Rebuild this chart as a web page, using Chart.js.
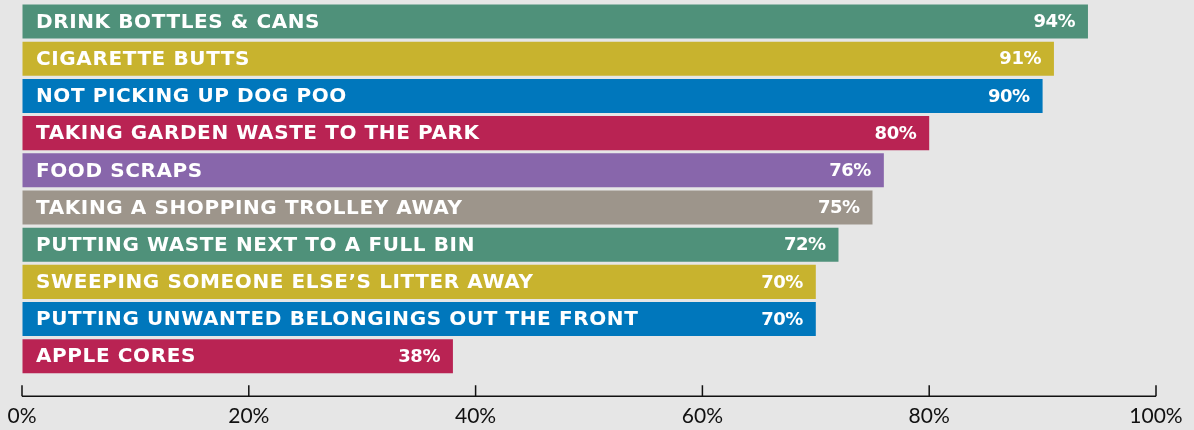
<!DOCTYPE html>
<html lang="en">
<head>
    <meta charset="UTF-8">
    <title>Littering behaviours</title>
    <script src="https://cdn.jsdelivr.net/npm/chart.js"></script>
    <style>
        body { margin: 0; background: #e6e6e6; }
        #wrap { width: 1194px; height: 430px; }
    </style>
</head>
<body>
    <div id="wrap"><canvas id="litterChart" width="1194" height="430"></canvas></div>

    <script>
        // data
        const categories = [
            'DRINK BOTTLES & CANS',
            'CIGARETTE BUTTS',
            'NOT PICKING UP DOG POO',
            'TAKING GARDEN WASTE TO THE PARK',
            'FOOD SCRAPS',
            'TAKING A SHOPPING TROLLEY AWAY',
            'PUTTING WASTE NEXT TO A FULL BIN',
            'SWEEPING SOMEONE ELSE\u2019S LITTER AWAY',
            'PUTTING UNWANTED BELONGINGS OUT THE FRONT',
            'APPLE CORES'
        ];
        const percents = [94, 91, 90, 80, 76, 75, 72, 70, 70, 38];
        const barColors = ['#4f917a', '#c8b32e', '#0077bc', '#b92353', '#8866ab',
                           '#9d958b', '#4f917a', '#c8b32e', '#0077bc', '#b92353'];
        const tickValues = [0, 20, 40, 60, 80, 100];

        // writes category name and value inside each bar
        const barText = {
            id: 'barText',
            afterDatasetsDraw(chart) {
                const ctx = chart.ctx;
                const meta = chart.getDatasetMeta(0);
                const left = chart.chartArea.left;
                ctx.save();
                ctx.fillStyle = '#ffffff';
                ctx.textBaseline = 'middle';
                meta.data.forEach((bar, i) => {
                    ctx.textAlign = 'left';
                    ctx.font = 'bold 20px "DejaVu Sans"';
                    ctx.letterSpacing = '0.6px';
                    ctx.fillText(categories[i], left + 14, bar.y + 1);
                    ctx.textAlign = 'right';
                    ctx.font = 'bold 18px "DejaVu Sans"';
                    ctx.letterSpacing = '-0.5px';
                    ctx.fillText(percents[i] + '%', bar.x - 13, bar.y + 1);
                });
                ctx.restore();
            }
        };

        // axis line with tick marks pointing up, a little below the bars
        const axisLine = {
            id: 'axisLine',
            afterDraw(chart) {
                const ctx = chart.ctx;
                const x = chart.scales.x;
                const y = x.top + 21.5;
                ctx.save();
                ctx.strokeStyle = '#111111';
                ctx.lineWidth = 1.5;
                ctx.beginPath();
                ctx.moveTo(x.left, y);
                ctx.lineTo(x.right, y);
                tickValues.forEach(v => {
                    const px = x.getPixelForValue(v);
                    ctx.moveTo(px, y);
                    ctx.lineTo(px, y - 11);
                });
                ctx.stroke();
                ctx.restore();
            }
        };

        new Chart(document.getElementById('litterChart'), {
            type: 'bar',
            data: {
                labels: categories,
                datasets: [{
                    data: percents,
                    backgroundColor: barColors,
                    borderWidth: 0,
                    barPercentage: 0.916,
                    categoryPercentage: 1
                }]
            },
            options: {
                indexAxis: 'y',
                responsive: false,
                animation: false,
                layout: { padding: { left: 22, right: 38, top: 3, bottom: 1 } },
                plugins: {
                    legend: { display: false },
                    tooltip: { enabled: false }
                },
                scales: {
                    x: {
                        min: 0,
                        max: 100,
                        afterBuildTicks: axis => {
                            axis.ticks = tickValues.map(v => ({ value: v }));
                        },
                        border: { display: false },
                        grid: { drawOnChartArea: false, drawTicks: true, tickLength: 29, color: 'rgba(0,0,0,0)' },
                        ticks: {
                            padding: 0,
                            color: '#111111',
                            font: { family: 'Lato', size: 21 },
                            callback: v => v + '%'
                        }
                    },
                    y: {
                        display: false
                    }
                }
            },
            plugins: [barText, axisLine]
        });
    </script>
</body>
</html>
